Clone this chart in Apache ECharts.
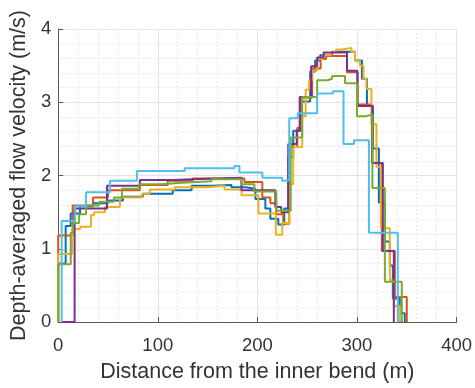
<!DOCTYPE html>
<html>
<head>
<meta charset="utf-8">
<script src="https://cdn.jsdelivr.net/npm/echarts@6/dist/echarts.min.js"></script>
<style>
  html, body { margin: 0; padding: 0; background: #fff; }
  #chart { width: 475px; height: 388px; }
</style>
</head>
<body>
<div id="chart"></div>
<script>
// step profiles: edges (m) and the velocity held between each pair of edges (m/s)
const blueEdges = [0, 7.5, 12.5, 22, 35, 50, 65, 85, 115, 134, 154, 174, 188, 198, 208, 213, 221, 227, 231, 236, 243.5, 253, 258, 263, 275, 298, 305, 310, 316, 322, 328, 333, 336, 343, 348];
const blueVals  = [0.80, 1.31, 1.48, 1.58, 1.62, 1.66, 1.71, 1.75, 1.80, 1.86, 1.87, 1.84, 1.82, 1.68, 1.55, 1.41, 1.33, 1.55, 2.25, 2.61, 3.01, 3.42, 3.57, 3.64, 3.69, 3.57, 3.32, 2.95, 2.37, 1.63, 1.10, 0.77, 0.32, 0.12];

const orangeEdges = [0, 14.5, 35, 50, 82, 110, 135, 187, 205, 213, 219, 226, 232, 240, 244, 255, 263.5, 269, 290, 300.5, 315, 325, 338, 350];
const orangeVals  = [1.18, 1.59, 1.70, 1.80, 1.87, 1.93, 1.96, 1.91, 1.70, 1.62, 1.47, 1.34, 2.39, 2.65, 3.06, 3.46, 3.59, 3.63, 3.41, 2.97, 2.17, 0.97, 0.34];

const yellowEdges = [0, 14, 22, 33, 36, 47, 62, 84, 92, 117, 150, 167, 184, 201, 218.5, 225, 232, 236, 245, 248.5, 252, 255, 260, 266, 274, 279, 285, 294.5, 298, 303, 306.5, 309.5, 314.5, 319.5, 324, 333, 337, 343];
const yellowVals  = [0.93, 1.27, 1.30, 1.46, 1.50, 1.57, 1.70, 1.75, 1.81, 1.84, 1.86, 1.81, 1.73, 1.48, 1.19, 1.35, 1.88, 2.39, 2.81, 3.17, 3.30, 3.43, 3.59, 3.64, 3.69, 3.72, 3.74, 3.69, 3.57, 3.50, 3.32, 3.18, 2.70, 2.12, 1.28, 0.57, 0.22];

const purpleEdges = [3.5, 16.5, 49, 82, 117, 134, 184, 218, 224, 231, 239.5, 242.5, 254, 260, 266.5, 290, 300.5, 315.5, 326, 337];
const purpleVals  = [0, 1.55, 1.86, 1.94, 1.95, 1.97, 1.80, 1.57, 1.50, 2.43, 2.61, 3.07, 3.49, 3.61, 3.68, 3.43, 2.95, 2.17, 0.97];

const greenEdges = [0, 12.6, 15, 21, 28, 41, 56, 64, 81, 104, 124, 154, 184, 197, 219, 233.5, 245, 260, 270.5, 275, 288, 300, 308, 315.5, 328, 345];
const greenVals  = [0.79, 1.22, 1.35, 1.47, 1.59, 1.64, 1.70, 1.82, 1.88, 1.90, 1.92, 1.95, 1.88, 1.78, 1.52, 2.52, 3.07, 3.30, 3.32, 3.36, 3.26, 2.81, 2.83, 1.83, 0.55];

const lightBlueEdges = [3.5, 17, 28, 52, 79, 127, 177, 182, 205, 225, 232, 240.5, 260, 276, 286.5, 297, 312, 341];
const lightBlueVals  = [1.38, 1.58, 1.77, 1.93, 2.06, 2.10, 2.13, 2.04, 1.97, 1.93, 2.78, 2.85, 3.12, 3.15, 2.43, 2.48, 1.22];

const xTicks = [0, 100, 200, 300, 400];
const yTicks = [0, 1, 2, 3, 4];

const profiles = [
  { edges: blueEdges, vals: blueVals, color: '#0072BD' },
  { edges: orangeEdges, vals: orangeVals, color: '#D95319' },
  { edges: yellowEdges, vals: yellowVals, color: '#EDB120' },
  { edges: purpleEdges, vals: purpleVals, color: '#7E2F8E' },
  { edges: greenEdges, vals: greenVals, color: '#77AC30' },
  { edges: lightBlueEdges, vals: lightBlueVals, color: '#4DBEEE' }
];

// turn edges + values into the corner points of a stairs plot
function stairs(edges, vals) {
  const pts = [[edges[0], 0]];
  for (let i = 0; i < vals.length; i++) {
    pts.push([edges[i], vals[i]]);
    pts.push([edges[i + 1], vals[i]]);
  }
  pts.push([edges[edges.length - 1], 0]);
  return pts;
}

const textColor = '#333333';
const font = 'Liberation Sans, Arial, sans-serif';

const chart = echarts.init(document.getElementById('chart'), null, { renderer: 'canvas' });

const axisCommon = {
  type: 'value',
  axisLine: { show: true, lineStyle: { color: '#595959', width: 1 } },
  axisTick: { show: true, inside: true, length: 5, lineStyle: { color: '#595959' } },
  splitLine: { show: true, lineStyle: { color: '#e3e3e3', width: 1 } },
  minorTick: { show: false, splitNumber: 5 },
  minorSplitLine: { show: true, lineStyle: { color: '#e6e6e6', type: [2, 2], width: 1 } },
  nameLocation: 'middle',
  nameTextStyle: { color: textColor, fontFamily: font, fontSize: 21.5 }
};

chart.setOption({
  animation: false,
  backgroundColor: '#fff',
  grid: { left: 55.5, right: 18, top: 29, bottom: 59, containLabel: false },
  xAxis: Object.assign({}, axisCommon, {
    min: xTicks[0],
    max: xTicks[xTicks.length - 1],
    interval: 100,
    name: 'Distance from the inner bend (m)',
    nameGap: 39,
    axisLabel: { color: textColor, fontFamily: font, fontSize: 18.5, margin: 14 }
  }),
  yAxis: Object.assign({}, axisCommon, {
    min: yTicks[0],
    max: yTicks[yTicks.length - 1],
    interval: 1,
    name: 'Depth-averaged flow velocity (m/s)',
    nameGap: 22,
    axisLabel: { color: textColor, fontFamily: font, fontSize: 18.5, margin: 7 }
  }),
  series: profiles.map(p => ({
    type: 'line',
    data: stairs(p.edges, p.vals),
    showSymbol: false,
    clip: false,
    lineStyle: { color: p.color, width: 2 },
    itemStyle: { color: p.color }
  }))
});
</script>
</body>
</html>
